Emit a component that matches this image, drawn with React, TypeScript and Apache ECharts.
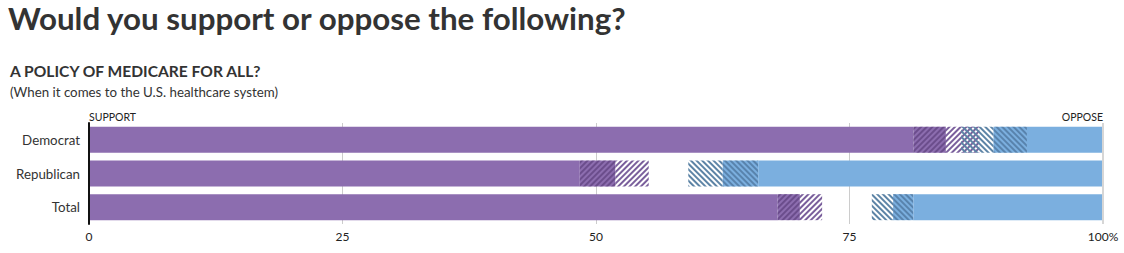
import React, { useEffect, useRef } from "react";
import * as echarts from "echarts";

const categories = ["Democrat", "Republican", "Total"];
const strongSupport = [81.3, 48.4, 67.9];
const somewhatSupport = [3.2, 3.5, 2.2];
const leanSupport = [3.3, 3.3, 2.2];
const leanOppose = [3.2, 3.4, 2.1];
const somewhatOppose = [3.3, 3.5, 2.0];
const strongOppose = [7.5, 34.0, 18.7];
const tickValues = [0, 25, 50, 75, 100];

const PURPLE = "#8c6daf";
const BLUE = "#7bafdf";
const FONT = "Lato, 'Noto Sans', sans-serif";

export default function App() {
  const ref = useRef<HTMLDivElement>(null);
  useEffect(() => {
    if (!ref.current) return;
    const chart = echarts.init(ref.current, undefined, { renderer: "svg" });
    const opposeOffset = categories.map(
      (_, i) => +(100 - leanOppose[i] - somewhatOppose[i] - strongOppose[i]).toFixed(2)
    );
    const decal = (color: string, rot: number) => ({
      symbol: "rect",
      symbolSize: 1,
      dashArrayX: [1, 0],
      dashArrayY: [1.8, 1.9],
      rotation: rot,
      color,
    });
    const base = {
      type: "bar",
      barWidth: 26,
      barGap: "-100%",
      silent: true,
      emphasis: { disabled: true },
    };
    chart.setOption({
      animation: false,
      grid: { left: 89, right: 21, top: 123, height: 101, containLabel: false },
      xAxis: {
        type: "value",
        min: 0,
        max: 100,
        interval: 25,
        axisLine: { show: false },
        axisTick: { show: false },
        splitLine: {
          show: true,
          lineStyle: { color: ["rgba(0,0,0,0)", "#cccccc", "#cccccc", "#cccccc", "#d6d6d6"], width: 1 },
        },
        axisLabel: {
          margin: 6,
          fontSize: 12,
          fontFamily: FONT,
          color: "#222",
          formatter: (v: number) => (v === tickValues[tickValues.length - 1] ? v + "%" : String(v)),
        },
      },
      yAxis: {
        type: "category",
        data: categories,
        inverse: true,
        axisTick: { show: false },
        axisLine: { show: true, lineStyle: { color: "#111", width: 2 } },
        axisLabel: { margin: 9, fontSize: 13.3, fontFamily: FONT, color: "#333" },
        z: 10,
      },
      series: [
        { ...base, name: "Strongly support", stack: "support", data: strongSupport, itemStyle: { color: PURPLE } },
        {
          ...base,
          name: "Somewhat support",
          stack: "support",
          data: somewhatSupport,
          itemStyle: { color: PURPLE, decal: decal("rgba(80,50,110,0.55)", -Math.PI / 4) },
        },
        {
          ...base,
          name: "Lean support",
          stack: "support",
          data: leanSupport,
          itemStyle: { color: "rgba(255,255,255,0)", decal: decal("#7a5f9c", -Math.PI / 4) },
        },
        {
          ...base,
          name: "offset",
          stack: "oppose",
          data: opposeOffset,
          itemStyle: { color: "rgba(0,0,0,0)" },
        },
        {
          ...base,
          name: "Lean oppose",
          stack: "oppose",
          data: leanOppose,
          itemStyle: { color: "rgba(255,255,255,0)", decal: decal("#5d84a6", Math.PI / 4) },
        },
        {
          ...base,
          name: "Somewhat oppose",
          stack: "oppose",
          data: somewhatOppose,
          itemStyle: { color: BLUE, decal: decal("rgba(60,95,130,0.55)", Math.PI / 4) },
        },
        {
          ...base,
          name: "Strongly oppose",
          stack: "oppose",
          data: strongOppose,
          itemStyle: { color: BLUE },
          markLine: {
            silent: true,
            symbol: "none",
            label: { show: false },
            lineStyle: { color: "#d6d6d6", width: 2, type: "solid" },
            data: [{ xAxis: tickValues[tickValues.length - 1] }],
          },
        },
      ],
      graphic: [
        {
          type: "text",
          left: 8,
          top: 2,
          style: {
            text: "Would you support or oppose the following?",
            font: `bold 31.3px ${FONT}`,
            fill: "#333",
          },
        },
        {
          type: "text",
          left: 10,
          top: 63,
          style: {
            text: "A POLICY OF MEDICARE FOR ALL?",
            font: `bold 15.6px ${FONT}`,
            fill: "#333",
          },
        },
        {
          type: "text",
          left: 10,
          top: 85,
          style: { text: "(When it comes to the U.S. healthcare system)", font: `13.3px ${FONT}`, fill: "#333" },
        },
        {
          type: "text",
          left: 89,
          top: 111,
          style: { text: "SUPPORT", font: `10.5px ${FONT}`, fill: "#222" },
        },
        {
          type: "text",
          right: 21,
          top: 111,
          style: { text: "OPPOSE", font: `10.5px ${FONT}`, fill: "#222" },
        },
      ],
    });
    return () => chart.dispose();
  }, []);
  return (
    <div
      ref={ref}
      style={{ position: "absolute", left: 0, top: 0, width: 1124, height: 253, background: "#fff" }}
    />
  );
}
